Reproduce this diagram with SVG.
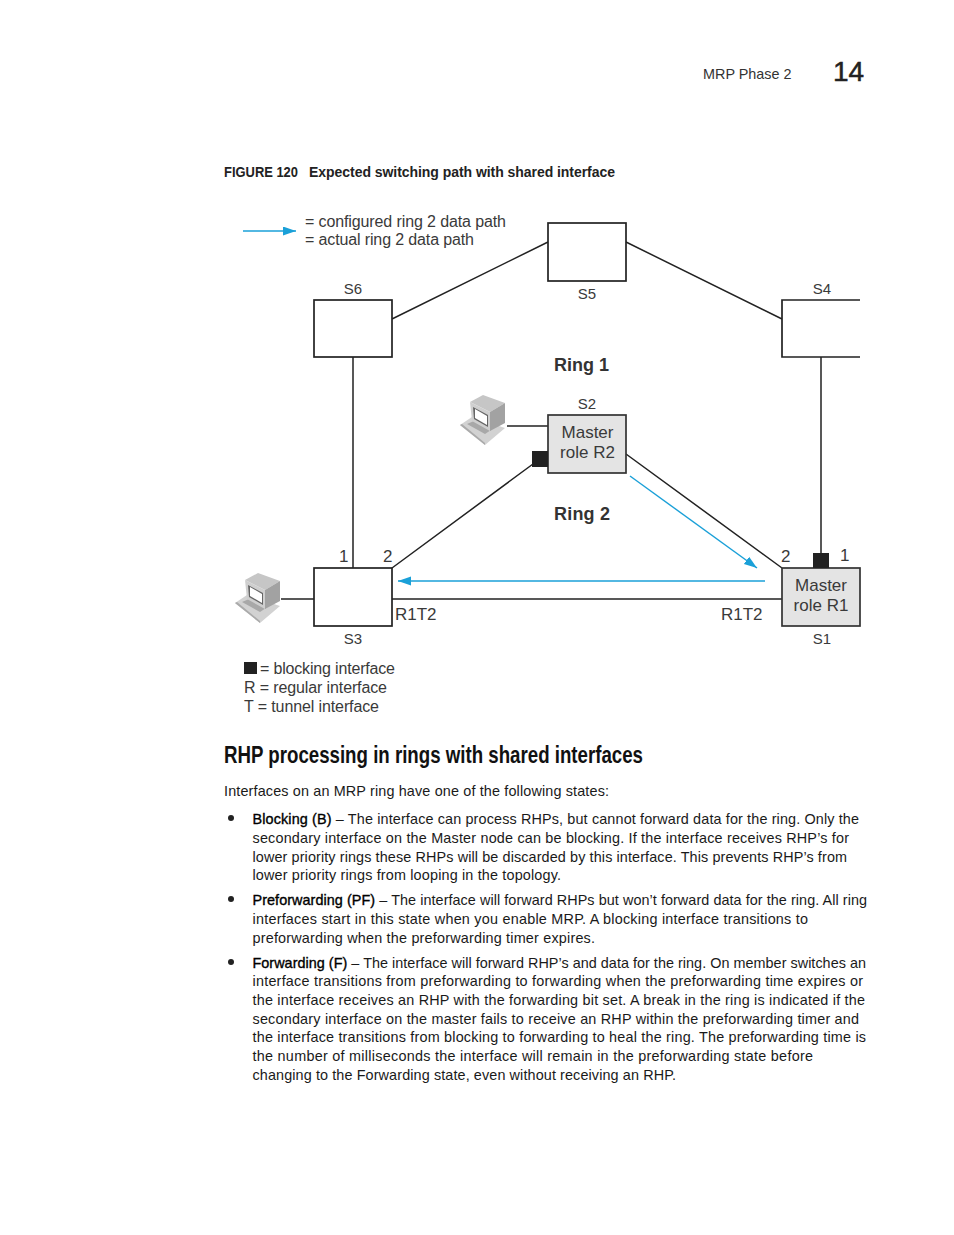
<svg xmlns="http://www.w3.org/2000/svg" xmlns:xlink="http://www.w3.org/1999/xlink" width="954" height="1235" viewBox="0 0 954 1235">
<style>
text{font-family:"Liberation Sans",Arial,sans-serif;fill:#222}
.d{font-size:16px;fill:#3a3a3a}
.m1{font-size:17px;fill:#3a3a3a}
.l{font-size:15px;fill:#3a3a3a}
.b{font-size:14.4px;fill:#1a1a1a}
.t{fill:#000;stroke:#000;stroke-width:.35}
.box{fill:#fff;stroke:#222;stroke-width:1.7}
.m{fill:#e4e4e4;stroke:#333;stroke-width:1.7}
.c{fill:none;stroke:#222;stroke-width:1.5}
.a{fill:none;stroke:#1aa0d8;stroke-width:1.4}
.k{fill:#222}
.mid{text-anchor:middle}
</style>
<defs>
<marker id="ah" markerUnits="userSpaceOnUse" markerWidth="14" markerHeight="10" refX="13" refY="4.5" orient="auto"><path d="M0 0L13 4.5L0 9Z" fill="#1aa0d8"/></marker>
<g id="pc">
<path d="M5 35L17 27L50 38L30 55Z" fill="#d2d2d2"/>
<path d="M5 35L30 55L30 53L7 34Z" fill="#aaa"/>
<path d="M12 34L30 44L36 40L19 31Z" fill="#a8a8a8"/>
<path d="M15 12L28 5L50 13L35 22Z" fill="#c6c6c6"/>
<path d="M35 22L50 13L50 33L35 41Z" fill="#a2a2a2"/>
<path d="M15 12L35 22L35 41L17 31Z" fill="#cfcfcf"/>
<path d="M18 17L33 25L33 37L19 29Z" fill="#666"/>
<path d="M20 19L32 26L32 35L20 28Z" fill="#fff"/>
</g>
</defs>
<g id="connectors">
<path class="c" d="M392 319L548 242M626 242L782 319M353 357V568M821 357V553M507 426H548M392 568L533 464M626 454L782 568M392 599H782M281 599H314"/>
<path class="a" d="M243 231H296" marker-end="url(#ah)"/>
<path class="a" d="M630 476L757 568" marker-end="url(#ah)"/>
<path class="a" d="M765 581H398" marker-end="url(#ah)"/>
</g>
<g id="S5"><rect class="box" x="548" y="223" width="78" height="58"/><text class="l mid" x="587" y="299">S5</text></g>
<g id="S6"><rect class="box" x="314" y="300" width="78" height="57"/><text class="l mid" x="353" y="294">S6</text></g>
<g id="S4"><path class="box" d="M860 300H782V357H860"/><text class="l mid" x="822" y="294">S4</text></g>
<g id="S2"><rect class="m" x="548" y="415" width="78" height="58"/><text class="l mid" x="587" y="409">S2</text><text class="m1 mid" x="587.500" y="438">Master</text><text class="m1 mid" x="587.500" y="458">role R2</text><rect class="k" x="532" y="451" width="16" height="16"/></g>
<g id="S3"><rect class="box" x="314" y="568" width="78" height="58"/><text class="l mid" x="353" y="644">S3</text><text class="m1" x="339" y="562">1</text><text class="m1" x="383" y="562">2</text><text class="m1" x="395" y="620">R1T2</text></g>
<g id="S1"><rect class="m" x="782" y="568" width="78" height="58"/><text class="l mid" x="822" y="644">S1</text><text class="m1 mid" x="821" y="591">Master</text><text class="m1 mid" x="821" y="611">role R1</text><rect class="k" x="813" y="553" width="16" height="15"/><text class="m1" x="781" y="562">2</text><text class="m1" x="840" y="561">1</text><text class="m1" x="721" y="620">R1T2</text></g>
<g id="pc-top"><use xlink:href="#pc" href="#pc" x="455" y="390"/></g>
<g id="pc-left"><use xlink:href="#pc" href="#pc" x="230" y="568"/></g>
<g id="legend">
<text class="d" x="305" y="227" textLength="201">= configured ring 2 data path</text>
<text class="d" x="305" y="245" textLength="169">= actual ring 2 data path</text>
<rect class="k" x="244" y="662" width="13" height="12"/>
<text class="d" x="260" y="674" textLength="135">= blocking interface</text>
<text class="d" x="244" y="693" textLength="143">R = regular interface</text>
<text class="d" x="244" y="712" textLength="135">T = tunnel interface</text>
</g>
<text x="554" y="371" style="font-size:18px;font-weight:bold;fill:#333">Ring 1</text>
<text x="554" y="520" style="font-size:18px;font-weight:bold;fill:#333" textLength="56">Ring 2</text>
<text x="703" y="79" style="font-size:14.400px;fill:#333">MRP Phase 2</text>
<text x="833" y="81" style="font-size:28px;stroke:#222;stroke-width:.5" textLength="31">14</text>
<text x="224" y="177" style="font-size:14px;font-weight:bold" textLength="74" lengthAdjust="spacingAndGlyphs">FIGURE 120</text>
<text x="309" y="177" style="font-size:14px;font-weight:bold" textLength="306">Expected switching path with shared interface</text>
<text x="224" y="763" style="font-size:24px;font-weight:bold;fill:#111" textLength="419" lengthAdjust="spacingAndGlyphs">RHP processing in rings with shared interfaces</text>
<g id="body">
<text class="b" x="224" y="796" textLength="385">Interfaces on an MRP ring have one of the following states:</text>
<circle class="k" cx="231" cy="818" r="3"/>
<text class="b" x="252.500" y="824" textLength="606.500"><tspan class="t">Blocking (B)</tspan> – The interface can process RHPs, but cannot forward data for the ring. Only the</text>
<text class="b" x="252.500" y="843" textLength="596.500">secondary interface on the Master node can be blocking. If the interface receives RHP’s for</text>
<text class="b" x="252.500" y="862" textLength="594.500">lower priority rings these RHPs will be discarded by this interface. This prevents RHP’s from</text>
<text class="b" x="252.500" y="880" textLength="308.500">lower priority rings from looping in the topology.</text>
<circle class="k" cx="231" cy="899" r="3"/>
<text class="b" x="252.500" y="905" textLength="614.500"><tspan class="t">Preforwarding (PF)</tspan> – The interface will forward RHPs but won’t forward data for the ring. All ring</text>
<text class="b" x="252.500" y="924" textLength="555.500">interfaces start in this state when you enable MRP. A blocking interface transitions to</text>
<text class="b" x="252.500" y="943" textLength="342.500">preforwarding when the preforwarding timer expires.</text>
<circle class="k" cx="231" cy="962" r="3"/>
<text class="b" x="252.500" y="968" textLength="613.500"><tspan class="t">Forwarding (F)</tspan> – The interface will forward RHP’s and data for the ring. On member switches an</text>
<text class="b" x="252.500" y="986" textLength="610.500">interface transitions from preforwarding to forwarding when the preforwarding time expires or</text>
<text class="b" x="252.500" y="1005" textLength="612.500">the interface receives an RHP with the forwarding bit set. A break in the ring is indicated if the</text>
<text class="b" x="252.500" y="1024" textLength="606.500">secondary interface on the master fails to receive an RHP within the preforwarding timer and</text>
<text class="b" x="252.500" y="1042" textLength="613.500">the interface transitions from blocking to forwarding to heal the ring. The preforwarding time is</text>
<text class="b" x="252.500" y="1061" textLength="560.500">the number of milliseconds the interface will remain in the preforwarding state before</text>
<text class="b" x="252.500" y="1080" textLength="423.500">changing to the Forwarding state, even without receiving an RHP.</text>
</g>
</svg>
